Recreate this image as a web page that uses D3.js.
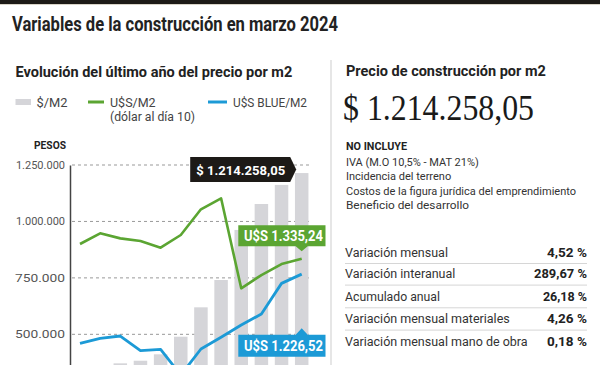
<!DOCTYPE html>
<html>
<head>
<meta charset="utf-8">
<script src="https://cdn.jsdelivr.net/npm/d3@7"></script>
<style>
  html, body { margin: 0; padding: 0; background: #fff; }
  svg { display: block; }
  text { font-family: "Liberation Sans Narrow", Roboto, "Liberation Sans", sans-serif; }
</style>
</head>
<body>
<svg id="chart" width="600" height="365"></svg>
<script>
// ---------------- DATA ----------------
const months = ["abr", "may", "jun", "jul", "ago", "sep", "oct", "nov", "dic", "ene", "feb", "mar"];
const pesosM2 = [330000, 352000, 371500, 383000, 411400, 489400, 619600, 740500, 962322, 1077200, 1161746, 1214258.05];
const usdM2 = [1440, 1516, 1480, 1461, 1414, 1504, 1686, 1764, 1126, 1220, 1298, 1335.24];
const usdBlueM2 = [736, 772, 788, 684, 694, 511, 696, 779, 866, 944, 1161, 1226.52];
const yTicks = [500000, 750000, 1000000, 1250000];

const legendItems = ["$/M2", "U$S/M2", "U$S BLUE/M2"];
const noIncluye = ["IVA (M.O 10,5% - MAT 21%)", "Incidencia del terreno",
  "Costos de la figura jurídica del emprendimiento", "Beneficio del desarrollo"];
const tableLabels = ["Variación mensual", "Variación interanual", "Acumulado anual",
  "Variación mensual materiales", "Variación mensual mano de obra"];
const tableValues = ["4,52 %", "289,67 %", "26,18 %", "4,26 %", "0,18 %"];

// ---------------- SETUP ----------------
const svg = d3.select("#chart");
const locale = d3.formatLocale({ decimal: ",", thousands: ".", grouping: [3], currency: ["$ ", ""] });
const fmtInt = locale.format(",.0f");
const fmtMoney = locale.format(",.2f");

const C = {
  dark: "#1d1a17", text: "#222", sub: "#444", tick: "#555",
  bar: "#d5d5d9", green: "#5ba532", blue: "#1c9ad6", grid: "#999", sep: "#d6d6d6"
};

function fit(sel, w) {
  sel.each(function () {
    const l = this.getComputedTextLength();
    if (Math.abs(l - w) / w > 0.02) {
      d3.select(this).attr("textLength", w).attr("lengthAdjust", "spacingAndGlyphs");
    }
  });
  return sel;
}
function txt(x, y, s, size, weight, color, w, anchor) {
  const t = svg.append("text").attr("x", x).attr("y", y).text(s)
    .attr("font-size", size).attr("font-weight", weight || "normal")
    .attr("fill", color || C.text).attr("text-anchor", anchor || "start");
  if (w) fit(t, w);
  return t;
}

// top bar
svg.append("rect").attr("x", 0).attr("y", 0).attr("width", 600).attr("height", 4).attr("fill", C.dark);
svg.append("rect").attr("x", 0).attr("y", 4).attr("width", 600).attr("height", 1).attr("fill", "#d9d4c8");

// titles
txt(12, 30.5, "Variables de la construcción en marzo 2024", 20, "bold", C.text, 326);
txt(15.5, 76.5, "Evolución del último año del precio por m2", 14.5, "bold", C.text, 278);

// separator
svg.append("line").attr("x1", 331).attr("x2", 331).attr("y1", 60).attr("y2", 365)
  .attr("stroke", C.sep).attr("stroke-width", 1.2);

// ---------------- CHART ----------------
const x = d3.scalePoint().domain(months).range([80, 301.7]);
const y = d3.scaleLinear().domain([0, 1250000]).range([447.2, 165]);
const yUsd = d3.scaleLinear().domain([0, 2000]).range([447.2, 165]);

// gridlines
svg.append("g").selectAll("line").data(yTicks).join("line")
  .attr("x1", 72).attr("x2", 312)
  .attr("y1", d => y(d)).attr("y2", d => y(d))
  .attr("stroke", C.grid).attr("stroke-width", 1).attr("stroke-dasharray", "3,3");

// bars
const bw = 13.5;
svg.append("g").selectAll("rect").data(pesosM2).join("rect")
  .attr("x", (d, i) => x(months[i]) - bw / 2)
  .attr("width", bw)
  .attr("y", d => y(d))
  .attr("height", d => y(0) - y(d))
  .attr("fill", C.bar);

// y axis
const yAxis = svg.append("g").attr("transform", "translate(70,0)")
  .call(d3.axisLeft(y).tickValues(yTicks).tickFormat(fmtInt).tickSize(0).tickSizeOuter(0).tickPadding(5));
yAxis.select(".domain").attr("stroke", "#444").attr("stroke-width", 1.5);
yAxis.selectAll("text").attr("font-size", 11).attr("fill", C.tick)
  .style("font-family", "\"Liberation Sans Narrow\", Roboto, sans-serif")
  .each(function () { fit(d3.select(this), 50); });

txt(34, 149, "PESOS", 10, "bold", C.text, 32);

// lines
const lineUsd = d3.line().x((d, i) => x(months[i])).y(d => yUsd(d));
svg.append("path").datum(usdM2).attr("d", lineUsd).attr("fill", "none")
  .attr("stroke", C.green).attr("stroke-width", 2.6).attr("stroke-linejoin", "round");
svg.append("path").datum(usdBlueM2).attr("d", lineUsd).attr("fill", "none")
  .attr("stroke", C.blue).attr("stroke-width", 2.8).attr("stroke-linejoin", "round");

// legend
svg.append("rect").attr("x", 15.5).attr("y", 99).attr("width", 15.5).attr("height", 6).attr("fill", C.bar);
txt(36.5, 106.5, legendItems[0], 12.5, "normal", C.sub, 31);
svg.append("line").attr("x1", 88).attr("x2", 104).attr("y1", 102).attr("y2", 102)
  .attr("stroke", C.green).attr("stroke-width", 3);
txt(110, 106.5, legendItems[1], 12.5, "normal", C.sub, 46);
txt(110, 120.5, "(dólar al día 10)", 12.5, "normal", C.sub, 85);
svg.append("line").attr("x1", 208).attr("x2", 227).attr("y1", 102).attr("y2", 102)
  .attr("stroke", C.blue).attr("stroke-width", 3);
txt(233, 106.5, legendItems[2], 12.5, "normal", C.sub, 74);

// annotations
const last = months.length - 1;
const lx = x(months[last]);
// black label (pesos)
{
  const tipX = lx - 5.5, tipY = y(pesosM2[last]) - 3.5;
  const r = { x0: tipX - 106, x1: tipX - 6, y0: tipY - 12.5, y1: tipY + 12.5 };
  svg.append("path").attr("fill", C.dark)
    .attr("d", `M${r.x0},${r.y0}H${r.x1}L${tipX},${tipY}L${r.x1},${r.y1}H${r.x0}Z`);
  txt(r.x0 + 6, tipY + 5, "$ " + fmtMoney(pesosM2[last]), 13.5, "bold", "#fff", 89);
}
// green label
{
  const tipX = lx, tipY = yUsd(usdM2[last]) - 7.5;
  const r = { x0: 238.3, x1: 325.5, y0: tipY - 26, y1: tipY - 5 };
  svg.append("path").attr("fill", C.green)
    .attr("d", `M${r.x0},${r.y0}H${r.x1}V${r.y1}H${tipX + 6}L${tipX},${tipY}L${tipX - 6},${r.y1}H${r.x0}Z`);
  txt(244, r.y1 - 5, "U$S " + fmtMoney(usdM2[last]), 14.5, "bold", "#fff", 79);
}
// blue label
{
  const tipX = lx, tipY = yUsd(usdBlueM2[last]) + 54;
  const r = { x0: 238.3, x1: 325.5, y0: tipY + 6.5, y1: tipY + 28.5 };
  svg.append("path").attr("fill", C.blue)
    .attr("d", `M${r.x0},${r.y0}H${tipX - 6}L${tipX},${tipY}L${tipX + 6},${r.y0}H${r.x1}V${r.y1}H${r.x0}Z`);
  txt(244, r.y1 - 6, "U$S " + fmtMoney(usdBlueM2[last]), 14.5, "bold", "#fff", 79);
}

// ---------------- RIGHT PANEL ----------------
txt(346, 76, "Precio de construcción por m2", 14.5, "bold", C.text, 200);
txt(343, 119.5, "$ " + fmtMoney(pesosM2[last]), 35, "normal", "#1a1a1a", 191)
  .style("font-family", "\"Liberation Serif\", \"DejaVu Serif\", serif");
txt(346, 150, "NO INCLUYE", 10.5, "bold", C.text, 61);
const niW = [131, 105, 230, 123];
noIncluye.forEach((s, i) => txt(346, 166 + i * 14.3, s, 11, "normal", "#333", niW[i]));

const rowBase = [256.7, 278.3, 301, 323.3, 346];
const labW = [102, 111, 95, 162, 180];
const valW = [40, 53, 45, 40, 40];
tableLabels.forEach((s, i) => {
  txt(345, rowBase[i], s, 12.5, "normal", "#333", labW[i]);
  txt(587, rowBase[i], tableValues[i], 12.5, "bold", C.text, valW[i], "end");
  if (i < tableLabels.length - 1) {
    svg.append("line").attr("x1", 345).attr("x2", 587)
      .attr("y1", rowBase[i] + 6.8).attr("y2", rowBase[i] + 6.8)
      .attr("stroke", C.sep).attr("stroke-width", 1);
  }
});
</script>
</body>
</html>
